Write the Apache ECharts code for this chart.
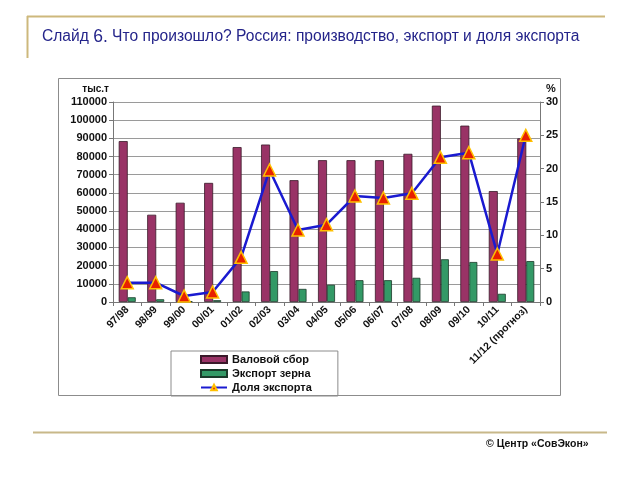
<!DOCTYPE html>
<html>
<head>
<meta charset="utf-8">
<script src="https://cdn.jsdelivr.net/npm/echarts@6/dist/echarts.min.js"></script>
<style>
  html, body { margin: 0; padding: 0; background: #fff; }
  #chart { width: 640px; height: 480px; }
</style>
</head>
<body>
<div id="chart"></div>
<script>
// данные
const seasons = ['97/98', '98/99', '99/00', '00/01', '01/02', '02/03', '03/04', '04/05',
  '05/06', '06/07', '07/08', '08/09', '09/10', '10/11', '11/12 (прогноз)']
const harvest = [88500, 48000, 54600, 65500, 85200, 86600, 67000, 78000,
  78000, 78000, 81500, 108000, 97000, 61000, 90000]
const exportGrain = [2600, 1500, 500, 1000, 5800, 17000, 7200, 9500,
  12000, 12000, 13300, 23500, 22000, 4500, 22500]
const exportShare = [2.9, 2.9, 0.9, 1.5, 6.7, 19.8, 10.8, 11.6,
  15.9, 15.6, 16.3, 21.7, 22.4, 7.2, 25]

const chart = echarts.init(document.getElementById('chart'))
const font = 'Liberation Sans, Arial, sans-serif'

const option = {
  animation: false,
  textStyle: { fontFamily: font },
  title: {
    text: 'Слайд {b|6.} Что произошло? Россия: производство, экспорт и доля экспорта',
    left: 37,
    top: 23,
    textStyle: {
      fontSize: 15.6,
      fontWeight: 'normal',
      color: '#24248a',
      fontFamily: font,
      rich: {
        b: { fontSize: 17.5, color: '#24248a', fontFamily: font }
      }
    }
  },
  graphic: [
    { type: 'line', shape: { x1: 27, y1: 16.5, x2: 605, y2: 16.5 }, style: { stroke: '#cdb87c', lineWidth: 2 } },
    { type: 'line', shape: { x1: 27.5, y1: 16, x2: 27.5, y2: 58 }, style: { stroke: '#cdb87c', lineWidth: 2 } },
    { type: 'line', shape: { x1: 33, y1: 432.5, x2: 607, y2: 432.5 }, style: { stroke: '#c8b889', lineWidth: 2 } },
    { type: 'rect', shape: { x: 58.5, y: 78.5, width: 502, height: 317 }, style: { fill: 'none', stroke: '#8c8c8c', lineWidth: 1 } },
    {
      type: 'text', left: 486, top: 439,
      style: { text: '© Центр «СовЭкон»', fontSize: 10.5, fontWeight: 'bold', fill: '#111', fontFamily: font }
    }
  ],
  legend: {
    orient: 'vertical',
    left: 171,
    top: 351,
    padding: [2, 26, 2, 29],
    borderColor: '#8c8c8c',
    borderWidth: 1,
    itemWidth: 26,
    itemHeight: 7,
    itemGap: 1,
    textStyle: { fontSize: 11, fontWeight: 'bold', color: '#111', lineHeight: 13, fontFamily: font },
    data: [
      { name: 'Валовой сбор', icon: 'rect' },
      { name: 'Экспорт зерна', icon: 'rect' },
      { name: 'Доля экспорта' }
    ]
  },
  grid: { left: 113, right: 100, top: 102, bottom: 178 },
  xAxis: {
    type: 'category',
    data: seasons,
    axisLine: { lineStyle: { color: '#777' } },
    axisTick: { show: true, length: 4, alignWithLabel: false, lineStyle: { color: '#777' } },
    axisLabel: {
      rotate: 45,
      interval: 0,
      fontSize: 10.5,
      fontWeight: 'bold',
      color: '#111',
      margin: 6,
      fontFamily: font
    }
  },
  yAxis: [
    {
      type: 'value',
      name: 'тыс.т',
      nameLocation: 'end',
      nameGap: 8,
      nameTextStyle: { fontSize: 10, fontWeight: 'bold', color: '#111', align: 'right', padding: [0, 4, 0, 0] },
      min: 0,
      max: 110000,
      interval: 10000,
      axisLine: { show: true, lineStyle: { color: '#777' } },
      axisTick: { show: true, length: 4, lineStyle: { color: '#777' } },
      axisLabel: {
        fontSize: 11, fontWeight: 'bold', color: '#111', margin: 6, fontFamily: font,
        formatter: v => String(v)
      },
      splitLine: { show: true, lineStyle: { color: '#9a9a9a', width: 1 } }
    },
    {
      type: 'value',
      name: '%',
      nameLocation: 'end',
      nameGap: 8,
      nameTextStyle: { fontSize: 11, fontWeight: 'bold', color: '#111', align: 'left', padding: [0, 0, 0, 6] },
      min: 0,
      max: 30,
      interval: 5,
      axisLine: { show: true, lineStyle: { color: '#777' } },
      axisTick: { show: true, length: 4, lineStyle: { color: '#777' } },
      axisLabel: { fontSize: 11, fontWeight: 'bold', color: '#111', margin: 6, fontFamily: font },
      splitLine: { show: false }
    }
  ],
  series: [
    {
      name: 'Валовой сбор',
      type: 'bar',
      data: harvest,
      barWidth: 9,
      barGap: '0%',
      itemStyle: { color: '#993366', borderColor: '#3a1a2a', borderWidth: 0.8 }
    },
    {
      name: 'Экспорт зерна',
      type: 'bar',
      data: exportGrain,
      barWidth: 8,
      barGap: '0%',
      itemStyle: { color: '#339966', borderColor: '#1a3a2a', borderWidth: 0.8 }
    },
    {
      name: 'Доля экспорта',
      type: 'line',
      yAxisIndex: 1,
      data: exportShare,
      symbol: 'triangle',
      symbolSize: 12,
      lineStyle: { color: '#1a1ad0', width: 2.5 },
      itemStyle: { color: '#e82000', borderColor: '#ffc000', borderWidth: 1.5 },
      z: 5
    }
  ]
}

chart.setOption(option)
</script>
</body>
</html>
